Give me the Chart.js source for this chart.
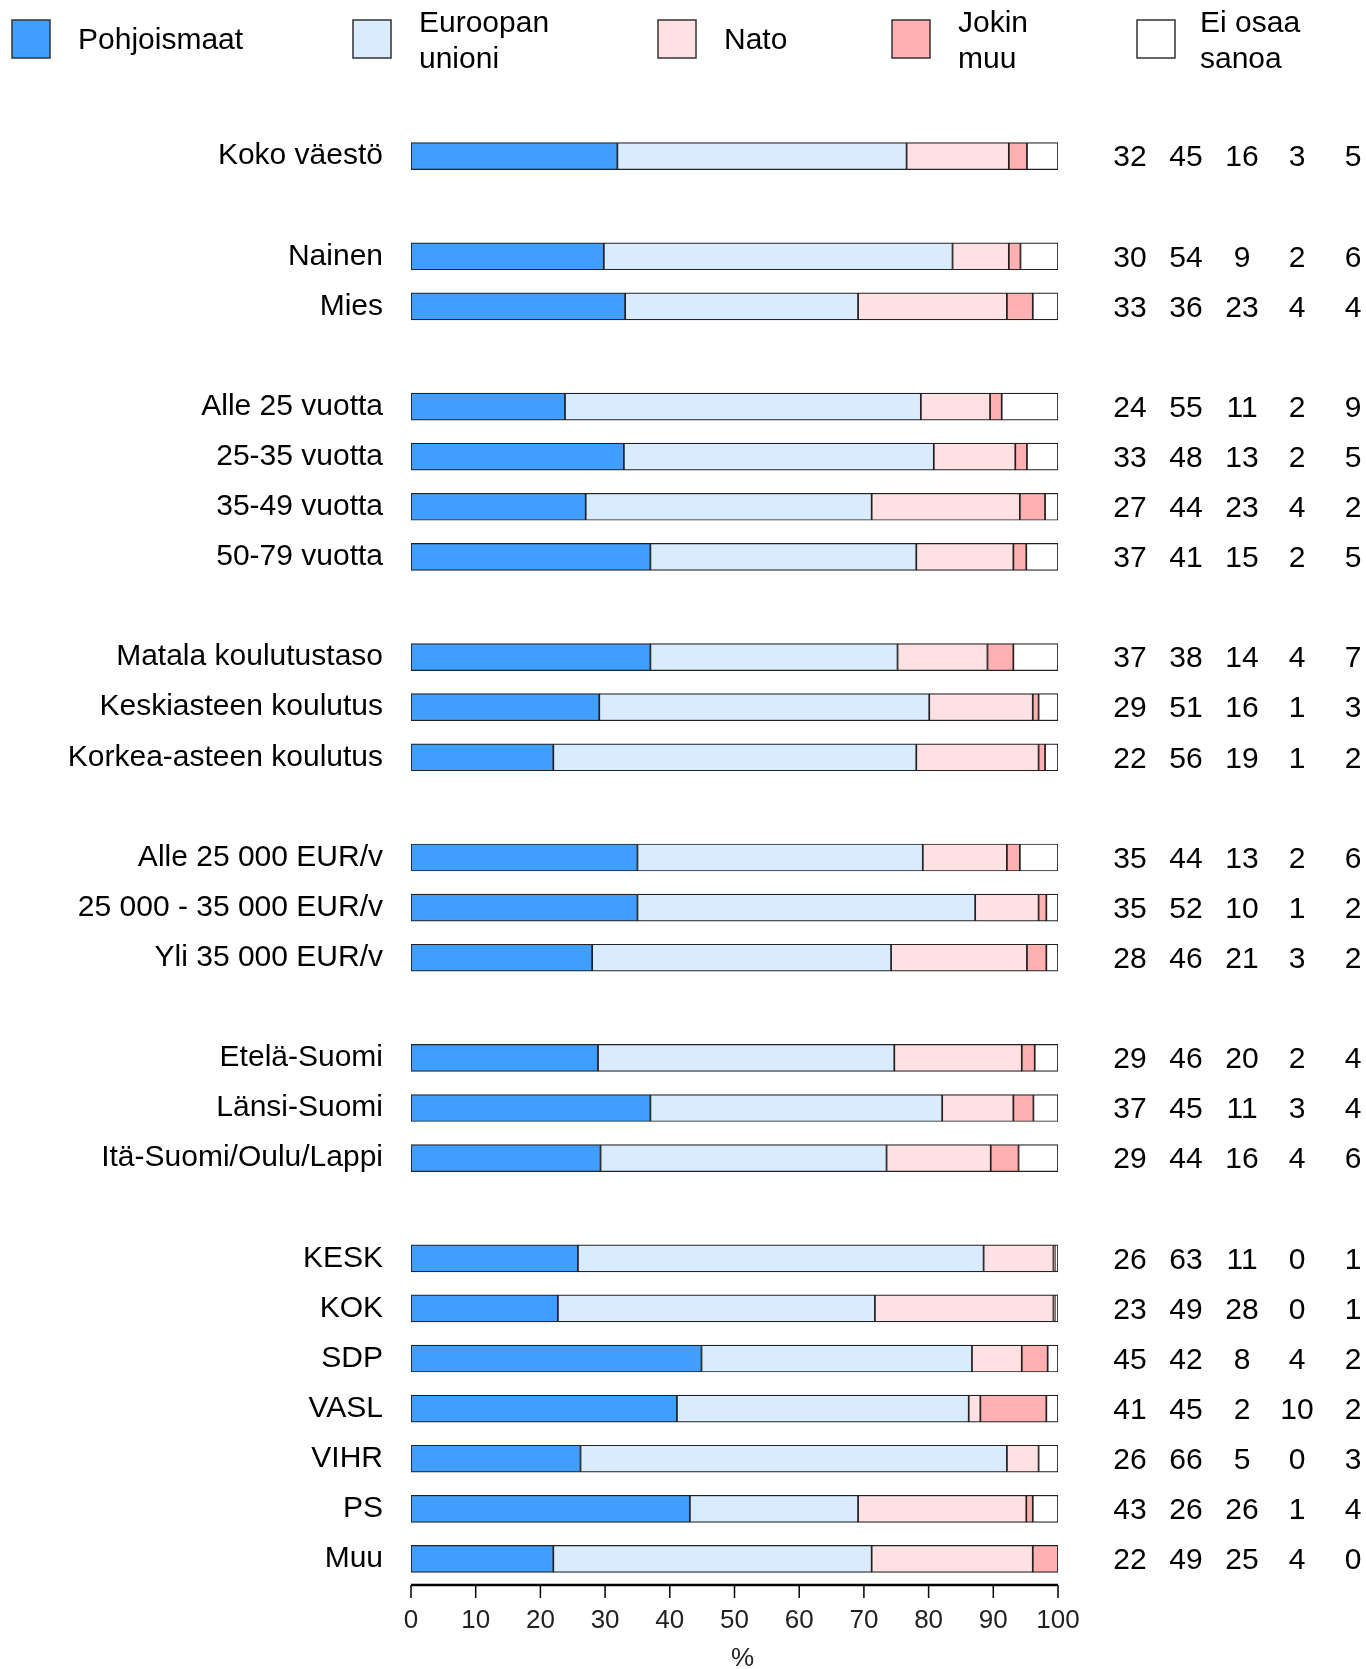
<!DOCTYPE html>
<html>
<head>
<meta charset="utf-8">
<script src="https://cdn.jsdelivr.net/npm/chart.js@4.4.1/dist/chart.umd.min.js"></script>
<style>
  body { margin: 0; background: #fff; }
  #wrap { width: 1366px; height: 1669px; position: relative; }
</style>
</head>
<body>
<div id="wrap"><canvas id="chart"></canvas></div>
<script>
// ---- data ----
const categories = [
  'Koko väestö', '',
  'Nainen', 'Mies', '',
  'Alle 25 vuotta', '25-35 vuotta', '35-49 vuotta', '50-79 vuotta', '',
  'Matala koulutustaso', 'Keskiasteen koulutus', 'Korkea-asteen koulutus', '',
  'Alle 25 000 EUR/v', '25 000 - 35 000 EUR/v', 'Yli 35 000 EUR/v', '',
  'Etelä-Suomi', 'Länsi-Suomi', 'Itä-Suomi/Oulu/Lappi', '',
  'KESK', 'KOK', 'SDP', 'VASL', 'VIHR', 'PS', 'Muu'
];
const seriesNames = ['Pohjoismaat', 'Euroopan unioni', 'Nato', 'Jokin muu', 'Ei osaa sanoa'];
const legendLines = [['Pohjoismaat'], ['Euroopan', 'unioni'], ['Nato'], ['Jokin', 'muu'], ['Ei osaa', 'sanoa']];

// bar segment widths (%)
const pohjoismaat = [31.9,null, 29.8,33.1,null, 23.8,32.9,27.0,37.0,null, 37.0,29.1,22.0,null, 35.0,35.0,28.0,null, 28.9,37.0,29.3,null, 25.8,22.7,44.9,41.1,26.2,43.1,22.0];
const euroopanUnioni = [44.7,null, 53.9,36.0,null, 55.0,47.9,44.2,41.1,null, 38.2,51.0,56.1,null, 44.1,52.2,46.2,null, 45.8,45.1,44.2,null, 62.7,49.0,41.8,45.1,65.9,26.0,49.2];
const nato = [15.8,null, 8.7,23.0,null, 10.7,12.6,22.9,15.0,null, 13.9,16.0,18.9,null, 13.0,9.8,21.0,null, 19.7,11.0,16.1,null, 10.8,27.6,7.7,1.8,4.9,26.0,24.9];
const jokinMuu = [2.8,null, 1.8,4.0,null, 1.8,1.8,3.9,2.0,null, 4.0,0.9,1.0,null, 2.0,1.2,3.0,null, 2.0,3.1,4.3,null, 0.2,0.2,4.0,10.2,0,1.0,3.9];
const eiOsaa = [4.8,null, 5.8,3.9,null, 8.7,4.8,2.0,4.9,null, 6.9,3.0,2.0,null, 5.9,1.8,1.8,null, 3.6,3.8,6.1,null, 0.5,0.5,1.6,1.8,3.0,3.9,0.0];

// printed numbers in the right-hand columns
const shownPohj = [32,null, 30,33,null, 24,33,27,37,null, 37,29,22,null, 35,35,28,null, 29,37,29,null, 26,23,45,41,26,43,22];
const shownEu   = [45,null, 54,36,null, 55,48,44,41,null, 38,51,56,null, 44,52,46,null, 46,45,44,null, 63,49,42,45,66,26,49];
const shownNato = [16,null, 9,23,null, 11,13,23,15,null, 14,16,19,null, 13,10,21,null, 20,11,16,null, 11,28,8,2,5,26,25];
const shownMuu  = [3,null, 2,4,null, 2,2,4,2,null, 4,1,1,null, 2,1,3,null, 2,3,4,null, 0,0,4,10,0,1,4];
const shownEos  = [5,null, 6,4,null, 9,5,2,5,null, 7,3,2,null, 6,2,2,null, 4,4,6,null, 1,1,2,2,3,4,0];

const xTicks = [0, 10, 20, 30, 40, 50, 60, 70, 80, 90, 100];
const colors = ['#409EFF', '#D9ECFF', '#FFE1E3', '#FFB1B1', '#FFFFFF'];

const FONT = '"Liberation Sans", Arial, Helvetica, sans-serif';

// ---- plugins: legend, value columns, bottom axis ----
const legendPlugin = {
  id: 'topLegend',
  afterDraw(chart) {
    const ctx = chart.ctx;
    const boxX = [12, 353, 658, 892, 1137];
    ctx.save();
    ctx.font = '30px ' + FONT;
    ctx.textBaseline = 'middle';
    ctx.textAlign = 'left';
    legendLines.forEach((lines, i) => {
      ctx.fillStyle = colors[i];
      ctx.fillRect(boxX[i], 20, 38, 38);
      ctx.strokeStyle = '#333';
      ctx.lineWidth = 1.5;
      ctx.strokeRect(boxX[i], 20, 38, 38);
      ctx.fillStyle = '#000';
      const tx = i === 4 ? boxX[i] + 63 : boxX[i] + 66;
      if (lines.length === 1) {
        ctx.fillText(lines[0], tx, 41);
      } else {
        ctx.fillText(lines[0], tx, 24);
        ctx.fillText(lines[1], tx, 60);
      }
    });
    ctx.restore();
  }
};

const numbersPlugin = {
  id: 'valueColumns',
  afterDraw(chart) {
    const ctx = chart.ctx;
    const yScale = chart.scales.y;
    const cols = [shownPohj, shownEu, shownNato, shownMuu, shownEos];
    const colX = [1130, 1186, 1242, 1297, 1353];
    ctx.save();
    ctx.font = '30px ' + FONT;
    ctx.fillStyle = '#000';
    ctx.textAlign = 'center';
    ctx.textBaseline = 'middle';
    categories.forEach((c, i) => {
      if (!c) return;
      const y = yScale.getPixelForValue(i) + 2;
      cols.forEach((arr, j) => ctx.fillText(String(arr[i]), colX[j], y));
    });
    ctx.restore();
  }
};

const axisPlugin = {
  id: 'bottomAxis',
  afterDraw(chart) {
    const ctx = chart.ctx;
    const xScale = chart.scales.x;
    const y0 = chart.chartArea.bottom + 1;
    const left = xScale.getPixelForValue(0), right = xScale.getPixelForValue(100);
    ctx.save();
    ctx.strokeStyle = '#000';
    ctx.lineWidth = 2.5;
    ctx.beginPath();
    ctx.moveTo(left, y0);
    ctx.lineTo(right, y0);
    ctx.stroke();
    ctx.lineWidth = 1.5;
    ctx.font = '26px ' + FONT;
    ctx.fillStyle = '#222';
    ctx.textAlign = 'center';
    ctx.textBaseline = 'middle';
    xTicks.forEach(v => {
      const x = xScale.getPixelForValue(v);
      ctx.beginPath();
      ctx.moveTo(x, y0);
      ctx.lineTo(x, y0 + 13);
      ctx.stroke();
      ctx.fillText(String(v), x, y0 + 36);
    });
    ctx.fillText('%', (left + right) / 2 + 8, y0 + 74);
    ctx.restore();
  }
};

const datasets = [pohjoismaat, euroopanUnioni, nato, jokinMuu, eiOsaa].map((d, i) => ({
  label: seriesNames[i],
  data: d,
  backgroundColor: colors[i],
  borderColor: '#222',
  borderWidth: 1.2,
  borderSkipped: false,
  barThickness: 27
}));

new Chart(document.getElementById('chart'), {
  type: 'bar',
  data: { labels: categories, datasets: datasets },
  options: {
    indexAxis: 'y',
    responsive: true,
    maintainAspectRatio: false,
    animation: false,
    layout: { padding: { top: 131, bottom: 85, left: 0, right: 308 } },
    plugins: { legend: { display: false }, tooltip: { enabled: false } },
    scales: {
      x: { stacked: true, min: 0, max: 100, display: false },
      y: {
        stacked: true,
        grid: { display: false, drawTicks: false },
        border: { display: false },
        ticks: { color: '#000', font: { family: FONT, size: 30 }, padding: 28, autoSkip: false },
        afterFit(scale) { scale.width = 411; }
      }
    }
  },
  plugins: [legendPlugin, numbersPlugin, axisPlugin]
});
</script>
</body>
</html>
